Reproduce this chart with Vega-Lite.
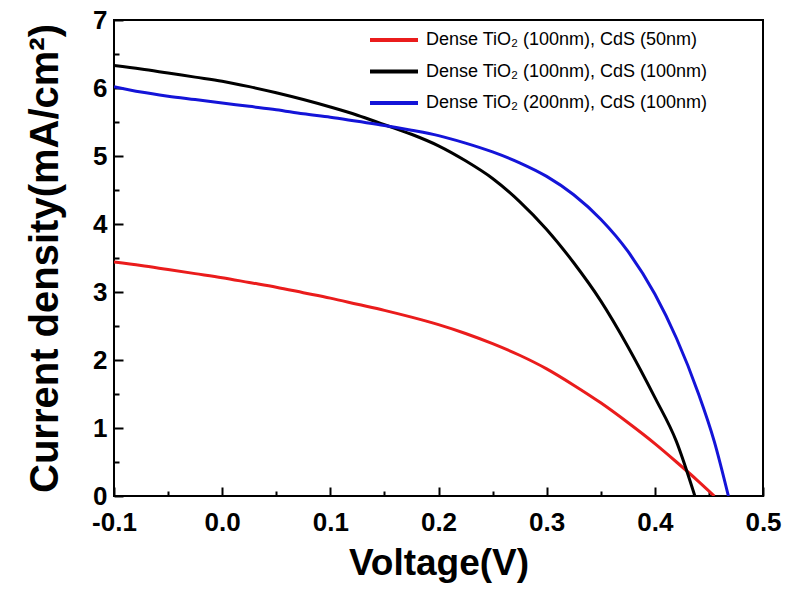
{
  "$schema": "https://vega.github.io/schema/vega-lite/v6.json",
  "autosize": "none",
  "padding": {"left": 114, "top": 20, "right": 38, "bottom": 105},
  "width": 649,
  "height": 476,
  "background": "white",
  "config": {
    "view": {"stroke": "black", "strokeWidth": 2},
    "font": "Liberation Sans"
  },
  "data": {"values": [
    {"v": -0.1, "j": 3.44, "s": "Dense TiO₂ (100nm), CdS (50nm)"},
    {"v": -0.075, "j": 3.39, "s": "Dense TiO₂ (100nm), CdS (50nm)"},
    {"v": -0.05, "j": 3.33, "s": "Dense TiO₂ (100nm), CdS (50nm)"},
    {"v": -0.025, "j": 3.27, "s": "Dense TiO₂ (100nm), CdS (50nm)"},
    {"v": 0.0, "j": 3.21, "s": "Dense TiO₂ (100nm), CdS (50nm)"},
    {"v": 0.025, "j": 3.14, "s": "Dense TiO₂ (100nm), CdS (50nm)"},
    {"v": 0.05, "j": 3.07, "s": "Dense TiO₂ (100nm), CdS (50nm)"},
    {"v": 0.075, "j": 2.99, "s": "Dense TiO₂ (100nm), CdS (50nm)"},
    {"v": 0.1, "j": 2.91, "s": "Dense TiO₂ (100nm), CdS (50nm)"},
    {"v": 0.125, "j": 2.82, "s": "Dense TiO₂ (100nm), CdS (50nm)"},
    {"v": 0.15, "j": 2.73, "s": "Dense TiO₂ (100nm), CdS (50nm)"},
    {"v": 0.175, "j": 2.63, "s": "Dense TiO₂ (100nm), CdS (50nm)"},
    {"v": 0.2, "j": 2.52, "s": "Dense TiO₂ (100nm), CdS (50nm)"},
    {"v": 0.225, "j": 2.39, "s": "Dense TiO₂ (100nm), CdS (50nm)"},
    {"v": 0.25, "j": 2.24, "s": "Dense TiO₂ (100nm), CdS (50nm)"},
    {"v": 0.275, "j": 2.07, "s": "Dense TiO₂ (100nm), CdS (50nm)"},
    {"v": 0.3, "j": 1.87, "s": "Dense TiO₂ (100nm), CdS (50nm)"},
    {"v": 0.325, "j": 1.63, "s": "Dense TiO₂ (100nm), CdS (50nm)"},
    {"v": 0.35, "j": 1.37, "s": "Dense TiO₂ (100nm), CdS (50nm)"},
    {"v": 0.375, "j": 1.08, "s": "Dense TiO₂ (100nm), CdS (50nm)"},
    {"v": 0.4, "j": 0.77, "s": "Dense TiO₂ (100nm), CdS (50nm)"},
    {"v": 0.42, "j": 0.5, "s": "Dense TiO₂ (100nm), CdS (50nm)"},
    {"v": 0.44, "j": 0.22, "s": "Dense TiO₂ (100nm), CdS (50nm)"},
    {"v": 0.455, "j": 0.0, "s": "Dense TiO₂ (100nm), CdS (50nm)"},
    {"v": -0.1, "j": 6.33, "s": "Dense TiO₂ (100nm), CdS (100nm)"},
    {"v": -0.075, "j": 6.28, "s": "Dense TiO₂ (100nm), CdS (100nm)"},
    {"v": -0.05, "j": 6.22, "s": "Dense TiO₂ (100nm), CdS (100nm)"},
    {"v": -0.025, "j": 6.16, "s": "Dense TiO₂ (100nm), CdS (100nm)"},
    {"v": 0.0, "j": 6.1, "s": "Dense TiO₂ (100nm), CdS (100nm)"},
    {"v": 0.025, "j": 6.02, "s": "Dense TiO₂ (100nm), CdS (100nm)"},
    {"v": 0.05, "j": 5.93, "s": "Dense TiO₂ (100nm), CdS (100nm)"},
    {"v": 0.075, "j": 5.83, "s": "Dense TiO₂ (100nm), CdS (100nm)"},
    {"v": 0.1, "j": 5.72, "s": "Dense TiO₂ (100nm), CdS (100nm)"},
    {"v": 0.125, "j": 5.6, "s": "Dense TiO₂ (100nm), CdS (100nm)"},
    {"v": 0.15, "j": 5.46, "s": "Dense TiO₂ (100nm), CdS (100nm)"},
    {"v": 0.175, "j": 5.32, "s": "Dense TiO₂ (100nm), CdS (100nm)"},
    {"v": 0.2, "j": 5.15, "s": "Dense TiO₂ (100nm), CdS (100nm)"},
    {"v": 0.225, "j": 4.93, "s": "Dense TiO₂ (100nm), CdS (100nm)"},
    {"v": 0.25, "j": 4.67, "s": "Dense TiO₂ (100nm), CdS (100nm)"},
    {"v": 0.275, "j": 4.33, "s": "Dense TiO₂ (100nm), CdS (100nm)"},
    {"v": 0.3, "j": 3.92, "s": "Dense TiO₂ (100nm), CdS (100nm)"},
    {"v": 0.325, "j": 3.43, "s": "Dense TiO₂ (100nm), CdS (100nm)"},
    {"v": 0.35, "j": 2.87, "s": "Dense TiO₂ (100nm), CdS (100nm)"},
    {"v": 0.375, "j": 2.2, "s": "Dense TiO₂ (100nm), CdS (100nm)"},
    {"v": 0.4, "j": 1.45, "s": "Dense TiO₂ (100nm), CdS (100nm)"},
    {"v": 0.42, "j": 0.8, "s": "Dense TiO₂ (100nm), CdS (100nm)"},
    {"v": 0.437, "j": 0.0, "s": "Dense TiO₂ (100nm), CdS (100nm)"},
    {"v": -0.1, "j": 6.02, "s": "Dense TiO₂ (200nm), CdS (100nm)"},
    {"v": -0.075, "j": 5.94, "s": "Dense TiO₂ (200nm), CdS (100nm)"},
    {"v": -0.05, "j": 5.88, "s": "Dense TiO₂ (200nm), CdS (100nm)"},
    {"v": -0.025, "j": 5.83, "s": "Dense TiO₂ (200nm), CdS (100nm)"},
    {"v": 0.0, "j": 5.78, "s": "Dense TiO₂ (200nm), CdS (100nm)"},
    {"v": 0.025, "j": 5.73, "s": "Dense TiO₂ (200nm), CdS (100nm)"},
    {"v": 0.05, "j": 5.68, "s": "Dense TiO₂ (200nm), CdS (100nm)"},
    {"v": 0.075, "j": 5.62, "s": "Dense TiO₂ (200nm), CdS (100nm)"},
    {"v": 0.1, "j": 5.57, "s": "Dense TiO₂ (200nm), CdS (100nm)"},
    {"v": 0.125, "j": 5.51, "s": "Dense TiO₂ (200nm), CdS (100nm)"},
    {"v": 0.15, "j": 5.45, "s": "Dense TiO₂ (200nm), CdS (100nm)"},
    {"v": 0.175, "j": 5.38, "s": "Dense TiO₂ (200nm), CdS (100nm)"},
    {"v": 0.2, "j": 5.3, "s": "Dense TiO₂ (200nm), CdS (100nm)"},
    {"v": 0.225, "j": 5.19, "s": "Dense TiO₂ (200nm), CdS (100nm)"},
    {"v": 0.25, "j": 5.06, "s": "Dense TiO₂ (200nm), CdS (100nm)"},
    {"v": 0.275, "j": 4.9, "s": "Dense TiO₂ (200nm), CdS (100nm)"},
    {"v": 0.3, "j": 4.7, "s": "Dense TiO₂ (200nm), CdS (100nm)"},
    {"v": 0.325, "j": 4.43, "s": "Dense TiO₂ (200nm), CdS (100nm)"},
    {"v": 0.35, "j": 4.07, "s": "Dense TiO₂ (200nm), CdS (100nm)"},
    {"v": 0.375, "j": 3.6, "s": "Dense TiO₂ (200nm), CdS (100nm)"},
    {"v": 0.4, "j": 2.97, "s": "Dense TiO₂ (200nm), CdS (100nm)"},
    {"v": 0.42, "j": 2.32, "s": "Dense TiO₂ (200nm), CdS (100nm)"},
    {"v": 0.44, "j": 1.52, "s": "Dense TiO₂ (200nm), CdS (100nm)"},
    {"v": 0.455, "j": 0.8, "s": "Dense TiO₂ (200nm), CdS (100nm)"},
    {"v": 0.468, "j": 0.0, "s": "Dense TiO₂ (200nm), CdS (100nm)"}
  ]},
  "layer": [
    {
      "mark": {"type": "line", "strokeWidth": 3, "interpolate": "monotone", "clip": true},
      "encoding": {
        "x": {
          "field": "v", "type": "quantitative",
          "scale": {"domain": [-0.1, 0.5], "nice": false, "zero": false},
          "axis": {
            "title": "Voltage(V)", "orient": "bottom",
            "values": [-0.1, 0.0, 0.1, 0.2, 0.3, 0.4, 0.5],
            "format": ".1f", "labelExpr": "replace(datum.label, '−', '-')", "grid": false,
            "domain": false, "tickColor": "black", "tickWidth": 2, "tickSize": -9,
            "labelFont": "Liberation Sans", "labelFontWeight": "bold", "labelFontSize": 26, "labelColor": "black",
            "labelPadding": 22, "labelFlush": false, "labelOverlap": false,
            "titleFont": "Liberation Sans", "titleFontWeight": "bold", "titleFontSize": 37, "titleColor": "black",
            "titlePadding": 10
          }
        },
        "y": {
          "field": "j", "type": "quantitative",
          "scale": {"domain": [0, 7], "nice": false},
          "axis": {
            "title": "Current density(mA/cm²)", "orient": "left",
            "values": [0, 1, 2, 3, 4, 5, 6, 7],
            "format": "d", "grid": false,
            "domain": false, "tickColor": "black", "tickWidth": 2, "tickSize": -9,
            "labelFont": "Liberation Sans", "labelFontWeight": "bold", "labelFontSize": 26, "labelColor": "black",
            "labelPadding": 16, "labelFlush": false, "labelOverlap": false,
            "titleFont": "Liberation Sans", "titleFontWeight": "bold", "titleFontSize": 40, "titleColor": "black",
            "titlePadding": 27
          }
        },
        "color": {
          "field": "s", "type": "nominal",
          "scale": {
            "domain": ["Dense TiO₂ (100nm), CdS (50nm)", "Dense TiO₂ (100nm), CdS (100nm)", "Dense TiO₂ (200nm), CdS (100nm)"],
            "range": ["#ea1c1c", "#000000", "#1414d8"]
          },
          "legend": {
            "title": null, "orient": "none", "legendX": 266, "legendY": 6,
            "symbolType": "M-2,0H2", "symbolSize": 576, "symbolStrokeWidth": 4,
            "labelFont": "Liberation Sans", "labelFontSize": 18, "labelColor": "black",
            "labelOffset": 18, "rowPadding": 8.5, "labelLimit": 400
          }
        }
      }
    },
    {
      "mark": {"type": "line", "opacity": 0},
      "encoding": {
        "x": {
          "field": "v", "type": "quantitative",
          "axis": {
            "title": null, "orient": "bottom", "labels": false, "domain": false, "grid": false,
            "values": [-0.05, 0.05, 0.15, 0.25, 0.35, 0.45],
            "tickColor": "black", "tickWidth": 2, "tickSize": -5
          }
        },
        "y": {
          "field": "j", "type": "quantitative",
          "axis": {
            "title": null, "orient": "left", "labels": false, "domain": false, "grid": false,
            "values": [0.5, 1.5, 2.5, 3.5, 4.5, 5.5, 6.5],
            "tickColor": "black", "tickWidth": 2, "tickSize": -5
          }
        },
        "detail": {"field": "s", "type": "nominal"}
      }
    }
  ],
  "resolve": {"axis": {"x": "independent", "y": "independent"}}
}
